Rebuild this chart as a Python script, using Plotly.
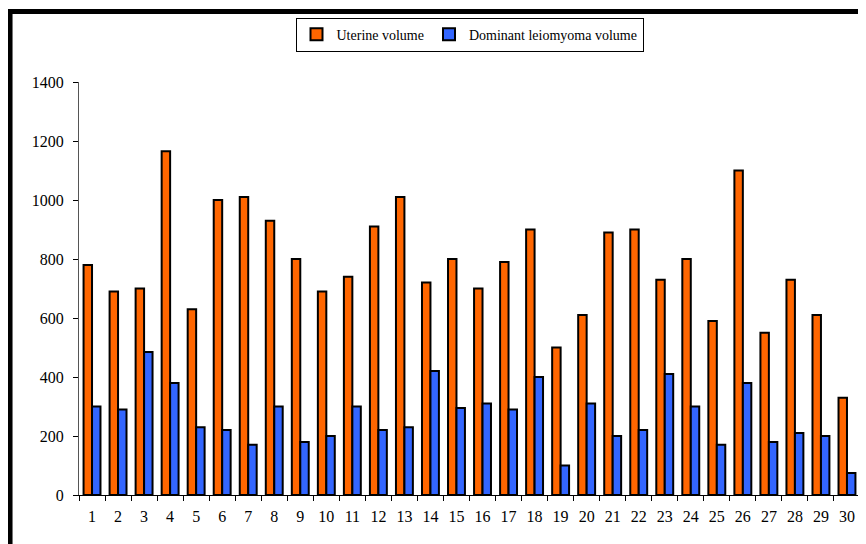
import plotly.graph_objects as go

categories = [str(i) for i in range(1, 31)]
uterine = [780, 690, 700, 1165, 630, 1000, 1010, 930, 800, 690,
           740, 910, 1010, 720, 800, 700, 790, 900, 500, 610,
           890, 900, 730, 800, 590, 1100, 550, 730, 610, 330]
leiomyoma = [300, 290, 485, 380, 230, 220, 170, 300, 180, 200,
             300, 220, 230, 420, 295, 310, 290, 400, 100, 310,
             200, 220, 410, 300, 170, 380, 180, 210, 200, 75]
y_ticks = [0, 200, 400, 600, 800, 1000, 1200, 1400]

font = "Liberation Serif, Times New Roman, serif"

fig = go.Figure()
fig.add_trace(go.Bar(x=categories, y=uterine, name="Uterine volume",
                     marker=dict(color="#FF6600", line=dict(color="black", width=2))))
fig.add_trace(go.Bar(x=categories, y=leiomyoma, name="Dominant leiomyoma volume",
                     marker=dict(color="#3366FF", line=dict(color="black", width=2))))

# page body has an 8px margin, so the figure is sized/offset to compensate
fig.update_layout(
    width=858, height=536,
    margin=dict(l=71, r=6, t=74, b=49),
    paper_bgcolor="white", plot_bgcolor="white",
    barmode="group", bargap=0.35, bargroupgap=0,
    font=dict(family=font, size=16, color="black"),
    showlegend=True,
    legend=dict(orientation="h", x=0.5, xanchor="center", y=1.156, yanchor="top",
                bordercolor="black", borderwidth=1, bgcolor="white",
                font=dict(family=font, size=14), itemwidth=30,
                traceorder="normal"),
    xaxis=dict(type="category", tickson="boundaries", ticks="outside", ticklen=5,
               tickcolor="black", showline=True, linecolor="black", linewidth=1,
               showgrid=False, ticklabelstandoff=7, tickfont=dict(family=font, size=16)),
    yaxis=dict(range=[0, 1400], tickvals=y_ticks, ticks="outside", ticklen=5,
               tickcolor="black", showline=True, linecolor="#555", linewidth=1,
               showgrid=False, zeroline=False, ticklabelstandoff=6,
               tickfont=dict(family=font, size=16)),
    shapes=[dict(type="rect", xref="paper", yref="paper",
                 x0=-0.0883, x1=1.05, y0=-0.3, y1=1.1707,
                 line=dict(color="black", width=5), fillcolor="rgba(0,0,0,0)", layer="above")],
)

fig.write_html("out.html")
